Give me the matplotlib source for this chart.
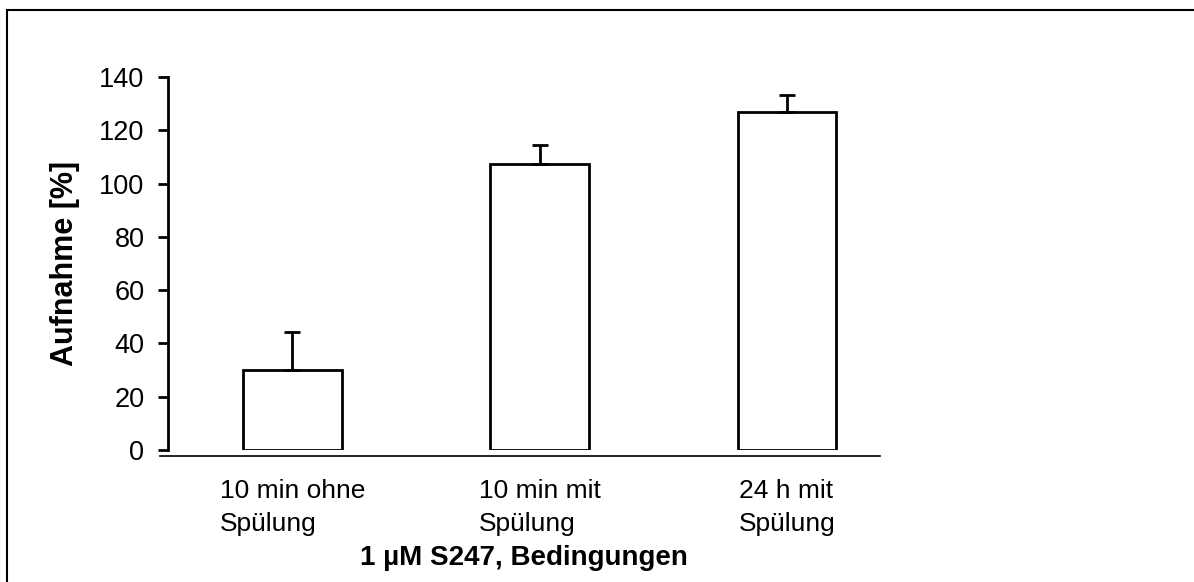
import matplotlib.pyplot as plt
plt.switch_backend('agg')
from matplotlib.patches import Rectangle

# Aufnahme in % fuer die drei Bedingungen
conditions = ['10 min ohne\nSpülung', '10 min mit\nSpülung', '24 h mit\nSpülung']
uptake = [30.0, 107.3, 126.9]
uptake_err = [14.4, 7.3, 6.2]
yticks = [0, 20, 40, 60, 80, 100, 120, 140]

plt.rcParams['font.family'] = ['Liberation Sans', 'DejaVu Sans']

W, H = 1194, 582
fig = plt.figure(figsize=(W / 100, H / 100), dpi=100)
# axes box in pixel coordinates: left spine at x=168, right end 880, y=77..450
ax = fig.add_axes([168 / W, (H - 450) / H, (880 - 168) / W, (450 - 77) / H])

# spines first: set_position resets the ticks
for side in ['top', 'right']:
    ax.spines[side].set_visible(False)
ax.spines['left'].set_linewidth(2)
ax.spines['bottom'].set_linewidth(1.2)
ax.spines['bottom'].set_position(('outward', 4))

x = list(range(len(conditions)))
ax.bar(x, uptake, width=0.4, color='white', edgecolor='black', linewidth=2, zorder=2)
ax.errorbar(x, uptake, yerr=[[0] * len(uptake), uptake_err], fmt='none',
            ecolor='black', elinewidth=2, capsize=6, capthick=2, zorder=3)

ax.set_xlim(-0.5034, 2.376)
ax.set_ylim(0, 140)
ax.spines['bottom'].set_bounds(-0.536, 2.376)
ax.set_yticks(yticks)
ax.set_xticks(x)
ax.set_xticklabels(conditions, multialignment='left', linespacing=1.45)
ax.tick_params(axis='y', direction='out', length=7, width=2, labelsize=19.5, pad=10)
ax.tick_params(axis='x', length=0, pad=17, labelsize=19)

ax.set_ylabel('Aufnahme [%]', fontsize=22, fontweight='bold', labelpad=14)
ax.set_xlabel('1 µM S247, Bedingungen', fontsize=20, fontweight='bold', labelpad=6.5)

# outer frame (only left and top edges visible in the crop)
fig.add_artist(Rectangle((7 / W, -0.1), 1.2, 1.1 - 10 / H, transform=fig.transFigure,
                         fill=False, edgecolor='black', linewidth=1.5))

fig.savefig('out.png', dpi=100)
